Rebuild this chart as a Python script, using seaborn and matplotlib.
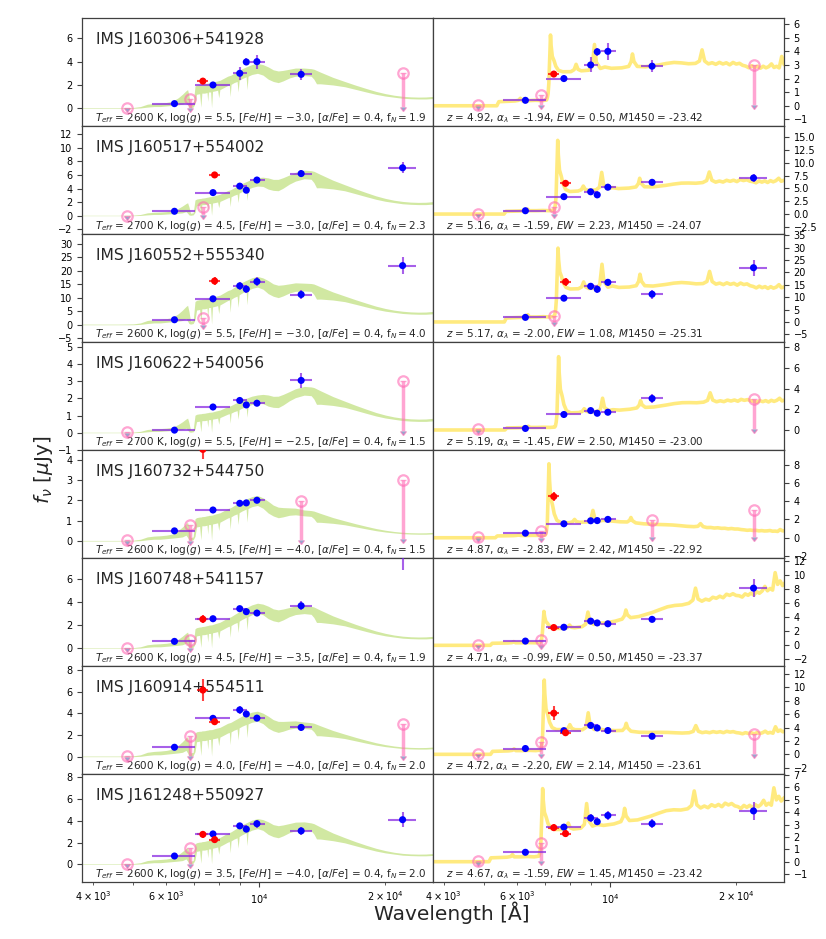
import numpy as np
import matplotlib
matplotlib.use("Agg")
import matplotlib.pyplot as plt
from matplotlib.ticker import MultipleLocator
import seaborn as sns

# ──────────────────────────────────────────────────────────────
#  OBJECTS + BEST-FIT PARAMETERS
# ──────────────────────────────────────────────────────────────
names = ['IMS J160306+541928', 'IMS J160517+554002', 'IMS J160552+555340',
         'IMS J160622+540056', 'IMS J160732+544750', 'IMS J160748+541157',
         'IMS J160914+554511', 'IMS J161248+550927']

# brown dwarf model params
teff = [2600, 2700, 2600, 2700, 2600, 2600, 2600, 2600]
logg = [5.5, 4.5, 5.5, 5.5, 4.5, 4.5, 4.0, 3.5]
feh  = [-3.0, -3.0, -3.0, -2.5, -4.0, -3.5, -4.0, -4.0]
afe  = [0.4, 0.4, 0.4, 0.4, 0.4, 0.4, 0.4, 0.4]
f_n  = [1.9, 2.3, 4.0, 1.5, 1.5, 1.9, 2.0, 2.0]

# quasar model params
qso_z = [4.92, 5.16, 5.17, 5.19, 4.87, 4.71, 4.72, 4.67]
alpha = [-1.94, -1.59, -2.00, -1.45, -2.83, -0.99, -2.20, -1.59]
ew    = [0.50, 2.23, 1.08, 2.50, 2.42, 0.50, 2.14, 1.45]
m1450 = [-23.42, -24.07, -25.31, -23.00, -22.92, -23.37, -23.61, -23.42]

# ──────────────────────────────────────────────────────────────
#  PHOTOMETRY   u, r, NB684, NB733, i, NB782, z, NB931, y, J, K
# ──────────────────────────────────────────────────────────────
filt_wave = [4830, 6270, 6840, 7330, 7750, 7820, 8980, 9310, 9870, 12590, 22000]
filt_lo   = [4830, 5550, 6840, 7100, 7020, 7590, 8640, 9270, 9510, 11850, 20300]
filt_hi   = [4830, 7020, 6840, 7560, 8520, 8050, 9340, 9350, 10300, 13360, 23750]
filt_red  = [0, 0, 1, 1, 0, 1, 0, 0, 0, 0, 0]   # medium bands drawn in red

nan = np.nan
flux = [
    [0.05, 0.40, 0.80, 2.33, 2.00, nan,  3.00, 3.97, 4.00, 2.91, 3.00],
    [0.00, 0.65, nan,  1.35, 3.40, 6.00, 4.35, 3.75, 5.25, 6.20, 7.05],
    [nan,  1.85, nan,  2.50, 9.60, 16.2, 14.4, 13.2, 16.0, 11.2, 21.9],
    [0.07, 0.15, nan,  nan,  1.50, nan,  1.88, 1.62, 1.72, 3.05, 3.00],
    [0.05, 0.50, 0.78, 4.52, 1.53, nan,  1.86, 1.88, 2.01, 1.97, 3.02],
    [0.05, 0.60, 0.72, 2.52, 2.56, nan,  3.43, 3.17, 3.05, 3.68, 8.10],
    [0.05, 0.87, 1.91, 6.15, 3.54, 3.23, 4.32, 3.94, 3.56, 2.70, 3.05],
    [0.05, 0.76, 1.47, 2.75, 2.79, 2.27, 3.53, 3.23, 3.73, 3.07, 4.10],
]
flux_err = [
    [0, 0.08, 0, 0.25, 0.10, 0,    0.55, 0.30, 0.60, 0.45, 0],
    [0, 0.10, 0, 0,    0.15, 0.50, 0.30, 0.15, 0.45, 0.50, 0.80],
    [0, 0.60, 0, 0,    0.80, 1.50, 1.50, 1.50, 1.50, 1.80, 3.20],
    [0, 0.05, 0, 0,    0.08, 0,    0.15, 0.12, 0.15, 0.45, 0],
    [0, 0.04, 0, 0.45, 0.08, 0,    0.12, 0.10, 0.15, 0,    0],
    [0, 0.10, 0, 0.35, 0.15, 0,    0.25, 0.20, 0.20, 0.40, 1.30],
    [0, 0.10, 0, 1.00, 0.30, 0.30, 0.35, 0.20, 0.30, 0.35, 0],
    [0, 0.05, 0, 0.30, 0.15, 0.30, 0.30, 0.20, 0.35, 0.35, 0.70],
]
# 1 = upper limit (pink circle + arrow)
upper_lim = [
    [1, 0, 1, 0, 0, 0, 0, 0, 0, 0, 1],
    [1, 0, 0, 1, 0, 0, 0, 0, 0, 0, 0],
    [0, 0, 0, 1, 0, 0, 0, 0, 0, 0, 0],
    [1, 0, 0, 0, 0, 0, 0, 0, 0, 0, 1],
    [1, 0, 1, 0, 0, 0, 0, 0, 0, 1, 1],
    [1, 0, 1, 0, 0, 0, 0, 0, 0, 0, 0],
    [1, 0, 1, 0, 0, 0, 0, 0, 0, 0, 1],
    [1, 0, 1, 0, 0, 0, 0, 0, 0, 0, 0],
]

# ──────────────────────────────────────────────────────────────
#  BROWN DWARF TEMPLATE (envelopes of the hi-res model, row-1 units)
# ──────────────────────────────────────────────────────────────
bd_wave  = [3770, 4600, 5000, 5200, 5400, 5600, 5800, 6000, 6200, 6400, 6550, 6680,
            6740, 6790, 6850, 6950, 7020, 7080, 7200, 7250, 7290, 7400, 7500, 7530,
            7560, 7650, 7690, 7730, 7850, 7950, 8000, 8050, 8200, 8400, 8480, 8520,
            8560, 8700, 8850, 8900, 8950, 9100, 9300, 9350, 9400, 9600, 9900, 10200,
            10500, 10800, 11100, 11400, 11800, 12200, 12800, 13300, 13500, 13700, 14000,
            15000, 16000, 17000, 18000, 19000, 20000, 21000, 22000, 23000, 24000,
            25000, 26100]
bd_upper = [0.05, 0.05, 0.07, 0.15, 0.35, 0.42, 0.45, 0.50, 0.60, 0.90, 1.20, 1.50,
            1.60, 1.10, 0.30, 0.35, 1.90, 2.00, 2.05, 2.05, 2.08, 2.10, 2.15, 2.15,
            2.18, 2.20, 2.20, 2.22, 2.30, 2.35, 2.38, 2.40, 2.55, 2.75, 2.80, 2.82,
            2.85, 3.00, 3.15, 3.20, 3.25, 3.40, 3.55, 3.58, 3.62, 3.75, 3.85, 3.75,
            3.55, 3.30, 3.20, 3.25, 3.35, 3.45, 3.45, 3.40, 3.35, 3.25, 3.10,
            2.65, 2.30, 1.98, 1.70, 1.45, 1.26, 1.12, 1.03, 0.98, 0.96,
            0.97, 1.02]
bd_lower = [0.00, 0.00, 0.00, 0.03, 0.10, 0.15, 0.15, 0.20, 0.25, 0.30, 0.35, 0.50,
            0.30, 0.10, 0.05, 0.10, 0.40, 1.20, 1.25, 0.10, 1.30, 1.30, 1.35, 0.60,
            1.40, 1.40, 0.05, 1.45, 1.50, 1.55, 0.90, 1.60, 1.75, 1.95, 2.00, 1.00,
            2.05, 2.20, 2.30, 1.40, 2.40, 2.55, 2.70, 1.60, 2.75, 2.90, 3.00, 2.85,
            2.50, 2.30, 2.20, 2.35, 2.60, 2.75, 2.80, 2.75, 2.50, 2.10, 2.10,
            2.00, 1.85, 1.62, 1.40, 1.20, 1.05, 0.95, 0.86, 0.82, 0.80,
            0.80, 0.84]
# level of each row's model at the optical bump, z-peak, J plateau, K
bd_anchor = [6740, 9900, 12800, 22000]
bd_levels = [
    [1.60, 3.85, 3.45, 1.03],
    [1.90, 5.60, 6.70, 2.10],
    [7.20, 17.9, 15.4, 5.00],
    [0.85, 2.20, 2.70, 0.85],
    [0.92, 2.25, 1.53, 0.43],
    [1.40, 3.90, 3.70, 1.05],
    [1.85, 4.20, 3.20, 0.90],
    [1.56, 4.20, 3.90, 1.00],
]

# ──────────────────────────────────────────────────────────────
#  QUASAR TEMPLATE (rest frame, relative to continuum)
# ──────────────────────────────────────────────────────────────
qso_rest = [600, 905, 915, 960, 1000, 1020, 1030, 1040, 1080, 1120, 1160, 1190, 1200,
            1208, 1216, 1260, 1300, 1360, 1385, 1400, 1415, 1440, 1500, 1530, 1549,
            1565, 1600, 1640, 1700, 1800, 1870, 1895, 1909, 1925, 1960, 2050, 2200,
            2300, 2400, 2500, 2600, 2700, 2760, 2800, 2840,
            2900, 2960, 3020, 3080, 3140, 3200, 3260, 3320, 3380, 3440, 3500, 3560,
            3620, 3680, 3740, 3800, 3860, 3920, 3980, 4040, 4102, 4160, 4220, 4280,
            4340, 4400, 4460, 4520, 4600]
qso_base = [0.00, 0.00, 0.12, 0.13, 0.14, 0.16, 0.22, 0.15, 0.15, 0.16, 0.15, 0.17, 0.30,
            0.70, 1.00, 1.00, 1.00, 1.00, 1.05, 1.20, 1.05, 1.00, 1.00, 1.10, 1.70,
            1.20, 1.02, 1.05, 1.00, 1.00, 1.03, 1.15, 1.35, 1.15, 1.02, 1.00, 1.03,
            1.06, 1.08, 1.07, 1.05, 1.06, 1.12, 1.40, 1.12,
            1.05, 1.08, 1.04, 1.09, 1.05, 1.08, 1.03, 1.09, 1.05, 1.07, 1.02, 1.00,
            0.96, 1.01, 0.97, 1.00, 0.95, 1.00, 0.96, 0.99, 1.06, 0.97, 1.00, 0.96,
            1.25, 1.04, 1.10, 1.02, 1.08]
lya_rest = [1195, 1205, 1212, 1216, 1220, 1228, 1240, 1252, 1270, 1300]
lya_prof = [0.00, 0.10, 0.65, 1.00, 0.72, 0.42, 0.30, 0.15, 0.04, 0.00]
lya_peak = [5.2, 14.4, 29.8, 7.1, 8.1, 4.8, 11.1, 5.9]
# continuum level (observed frame) at anchor wavelengths
qso_anchor = [8000, 10000, 14000, 25000]
qso_cont = [
    [2.50, 2.75, 2.95, 2.90],
    [4.40, 4.90, 5.50, 6.60],
    [13.3, 13.8, 14.8, 14.2],
    [1.65, 1.85, 2.40, 2.90],
    [1.65, 1.85, 1.30, 0.72],
    [2.40, 3.30, 5.20, 8.30],
    [3.70, 3.60, 3.00, 3.30],
    [2.60, 3.00, 3.90, 4.80],
]

left_ylim  = [(-1.52, 7.74), (-2.7, 13.2), (-6.4, 33.6), (-1.01, 5.29),
              (-0.84, 4.49), (-1.53, 7.81), (-1.6, 8.37), (-1.63, 8.3)]
right_ylim = [(-1.49, 6.45), (-3.9, 17.2), (-8.1, 35.5), (-1.94, 8.52),
              (-2.22, 9.61), (-2.93, 12.37), (-2.94, 13.2), (-1.64, 7.08)]
left_step  = [2, 2, 5, 1, 1, 2, 2, 2]
right_step = [1, 2.5, 5, 2, 2, 2, 2, 1]

# ──────────────────────────────────────────────────────────────
#  STYLE
# ──────────────────────────────────────────────────────────────
sns.set_theme(style='ticks')
plt.rcParams['font.family'] = ['DejaVu Sans']
plt.rcParams['mathtext.fontset'] = 'dejavusans'
plt.rcParams['axes.edgecolor'] = '0.25'
plt.rcParams['axes.linewidth'] = 0.9
plt.rcParams['xtick.color'] = '0.25'
plt.rcParams['ytick.color'] = '0.25'
plt.rcParams['xtick.labelcolor'] = 'black'
plt.rcParams['ytick.labelcolor'] = 'black'

PINK = 'hotpink'
BD_GREEN = 'yellowgreen'
QSO_YELLOW = 'gold'
XLIM = (3770, 26000)


def draw_phot(ax, i):
    for j, w in enumerate(filt_wave):
        f = flux[i][j]
        if np.isnan(f):
            continue
        if upper_lim[i][j]:
            ax.errorbar(w, f, yerr=f * 0.97, uplims=True, fmt='none',
                        ecolor=PINK, elinewidth=2.5, capsize=2, alpha=0.6, zorder=4)
            ax.plot(w, f, 'o', mfc='none', mec=PINK, ms=7.5, mew=1.6, alpha=0.6, zorder=4)
        else:
            xerr = [[w - filt_lo[j]], [filt_hi[j] - w]]
            if filt_red[j]:
                dot, bar = 'red', 'red'
            else:
                dot, bar = 'blue', 'blueviolet'
            ax.errorbar(w, f, xerr=xerr, yerr=flux_err[i][j], fmt='none',
                        ecolor=bar, elinewidth=1.5, alpha=0.75, zorder=5)
            sns.scatterplot(x=[w], y=[f], ax=ax, color=dot, s=26,
                            edgecolor='none', zorder=6, legend=False)


fig, axes = plt.subplots(8, 2, figsize=(8.26, 9.39), dpi=100, sharex=True)
fig.subplots_adjust(left=0.0993, right=0.949, top=0.9808, bottom=0.0607,
                    wspace=0, hspace=0)

bd_w = np.array(bd_wave, dtype=float)
rest = np.union1d(qso_rest, lya_rest).astype(float)

for i in range(8):
    ax_l, ax_r = axes[i]

    # ---- brown dwarf fit (left) ----
    ratio = np.array(bd_levels[i]) / np.array(bd_levels[0])
    scale = np.interp(np.log10(bd_w), np.log10(bd_anchor), ratio)
    ax_l.fill_between(bd_w, np.array(bd_lower) * scale, np.array(bd_upper) * scale,
                      color=BD_GREEN, alpha=0.45, lw=0, zorder=2)
    draw_phot(ax_l, i)

    # ---- quasar fit (right) ----
    obs = rest * (1 + qso_z[i])
    cont = np.exp(np.interp(np.log(obs), np.log(qso_anchor), np.log(qso_cont[i])))
    lya_obs = 1216 * (1 + qso_z[i])
    cont_lya = np.exp(np.interp(np.log(lya_obs), np.log(qso_anchor), np.log(qso_cont[i])))
    shape = (np.interp(rest, qso_rest, qso_base)
             + np.interp(rest, lya_rest, lya_prof, left=0, right=0)
             * (lya_peak[i] / cont_lya - 1))
    sns.lineplot(x=obs, y=shape * cont, ax=ax_r, color=QSO_YELLOW, alpha=0.5,
                 lw=2.6, estimator=None, sort=False, zorder=2)
    draw_phot(ax_r, i)

    # ---- axes cosmetics ----
    for ax in (ax_l, ax_r):
        ax.set_xscale('log')
        ax.set_xlim(*XLIM)
        ax.tick_params(which='both', labelsize=7)
        ax.tick_params(which='major', length=3.5, width=0.8)
        ax.tick_params(which='minor', length=2, width=0.6)
    ax_l.set_ylim(*left_ylim[i])
    ax_r.set_ylim(*right_ylim[i])
    ax_l.yaxis.set_major_locator(MultipleLocator(left_step[i]))
    ax_r.yaxis.set_major_locator(MultipleLocator(right_step[i]))
    ax_r.yaxis.tick_right()

    ax_l.text(0.04, 0.80, names[i], transform=ax_l.transAxes, fontsize=11.2,
              va='center', ha='left')
    ax_l.text(0.51, 0.075,
              f"$T_{{eff}}$ = {teff[i]} K, log($g$) = {logg[i]:.1f}, "
              f"[$Fe/H$] = ${feh[i]:.1f}$, [$\\alpha/Fe$] = {afe[i]:.1f}, "
              f"f$_N = {f_n[i]:.1f}$",
              transform=ax_l.transAxes, fontsize=7.5, ha='center', va='center')
    ax_r.text(0.037, 0.075,
              f"$z$ = {qso_z[i]:.2f}, $\\alpha_\\lambda$ = {alpha[i]:.2f}, "
              f"$EW$ = {ew[i]:.2f}, $M1450$ = {m1450[i]:.2f}",
              transform=ax_r.transAxes, fontsize=7.5, ha='left', va='center')

fig.text(0.053, 0.50, '$f_\\nu$ [$\\mu$Jy]', rotation=90, fontsize=14.5,
         ha='center', va='center')
fig.text(0.547, 0.028, 'Wavelength [Å]', fontsize=14.5, ha='center', va='center')

fig.savefig('out.png', dpi=100)
